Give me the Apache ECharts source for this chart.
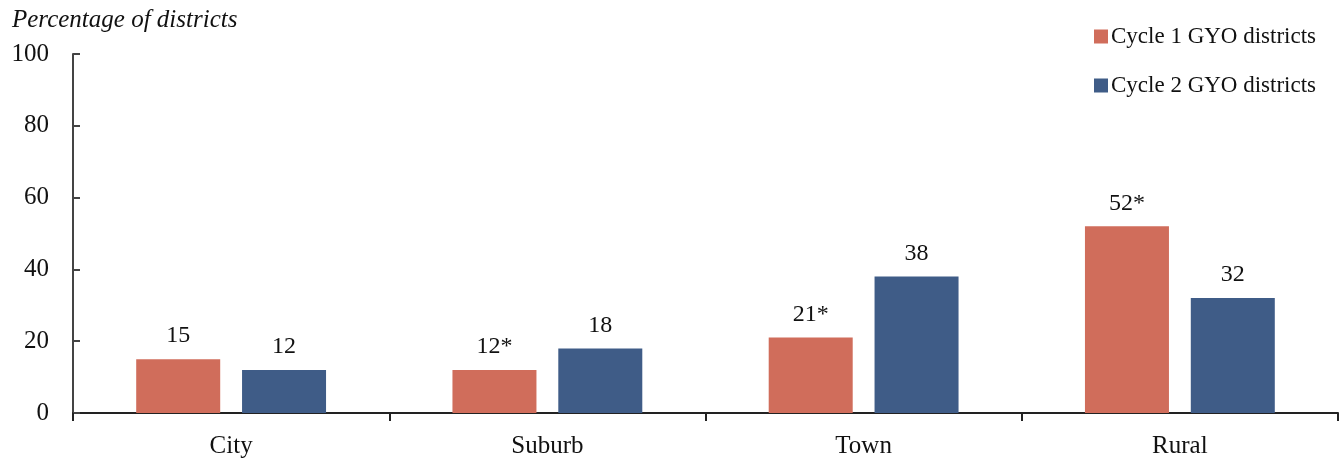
<!DOCTYPE html>
<html>
<head>
<meta charset="utf-8">
<style>
  html, body { margin: 0; padding: 0; background: #fff; }
  #chart { width: 1341px; height: 462px; }
</style>
<script src="https://cdn.jsdelivr.net/npm/echarts@6/dist/echarts.min.js"></script>
</head>
<body>
<div id="chart"></div>
<script>
// Locale types and share of GYO districts in each cycle
const categories = ['City', 'Suburb', 'Town', 'Rural'];
const cycle1 = [15, 12, 21, 52];
const cycle2 = [12, 18, 38, 32];
// Asterisk marks a statistically significant difference
const cycle1Starred = [false, true, true, true];
const cycle2Starred = [false, false, false, false];
const yTicks = [0, 20, 40, 60, 80, 100];

const FONT = '"Liberation Serif", "DejaVu Serif", serif';
const RED = '#D06D5B';
const BLUE = '#3F5C87';

function labelFor(starred) {
  return {
    show: true,
    position: 'top',
    distance: 11,
    color: '#111',
    fontFamily: FONT,
    fontSize: 24,
    formatter: p => p.value + (starred[p.dataIndex] ? '*' : '')
  };
}

const chart = echarts.init(document.getElementById('chart'), null, { renderer: 'canvas' });
chart.setOption({
  animation: false,
  textStyle: { fontFamily: FONT },
  grid: { left: 73, right: 3, top: 54, bottom: 49, containLabel: false },
  title: {
    text: 'Percentage of districts',
    left: 7, top: 3,
    textStyle: { fontFamily: FONT, fontStyle: 'italic', fontWeight: 'normal', fontSize: 25, color: '#111' }
  },
  legend: {
    orient: 'vertical',
    left: 1089, top: 20,
    itemWidth: 14, itemHeight: 14,
    itemGap: 26,
    icon: 'rect',
    textStyle: { fontFamily: FONT, fontSize: 23, color: '#111', padding: [0, 0, 0, -2] },
    data: ['Cycle 1 GYO districts', 'Cycle 2 GYO districts']
  },
  xAxis: {
    type: 'category',
    data: categories,
    axisLine: { lineStyle: { color: '#222', width: 2 } },
    axisTick: { show: true, length: 8, lineStyle: { color: '#222', width: 2 } },
    axisLabel: { fontFamily: FONT, fontSize: 25, color: '#111', margin: 21 }
  },
  yAxis: {
    type: 'value',
    min: 0, max: 100, interval: 20,
    axisLine: { show: true, lineStyle: { color: '#444', width: 2 } },
    axisTick: { show: true, inside: true, length: 7, lineStyle: { color: '#444', width: 2 } },
    splitLine: { show: false },
    axisLabel: {
      fontFamily: FONT, fontSize: 25, color: '#111', margin: 24,
      formatter: v => yTicks.includes(v) ? String(v) : ''
    }
  },
  series: [
    {
      name: 'Cycle 1 GYO districts',
      type: 'bar',
      data: cycle1,
      barWidth: 84,
      barGap: '26%',
      itemStyle: { color: RED },
      label: labelFor(cycle1Starred)
    },
    {
      name: 'Cycle 2 GYO districts',
      type: 'bar',
      data: cycle2,
      barWidth: 84,
      barGap: '26%',
      itemStyle: { color: BLUE },
      label: labelFor(cycle2Starred)
    }
  ]
});
</script>
</body>
</html>
